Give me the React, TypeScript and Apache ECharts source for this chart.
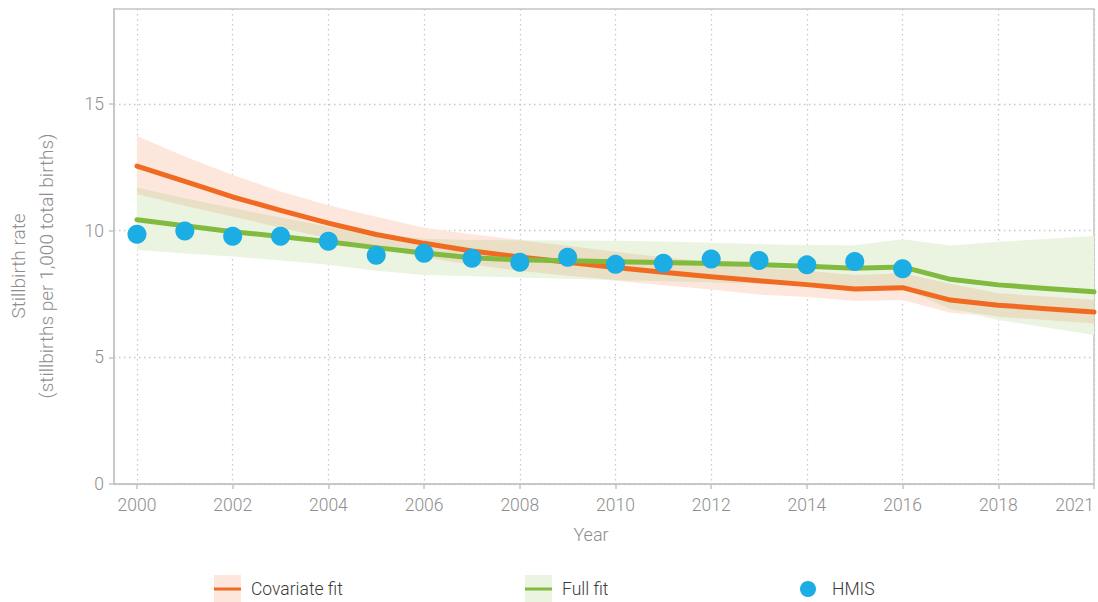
import React, { useEffect, useRef } from 'react';
import * as echarts from 'echarts';

// x positions are indices into this list of year labels
const years = ['2000', '2001', '2002', '2003', '2004', '2005', '2006', '2007', '2008', '2009', '2010',
  '2011', '2012', '2013', '2014', '2015', '2016', '2017', '2018', '2019', '2021'];
const xTickIndex = [0, 2, 4, 6, 8, 10, 12, 14, 16, 18, 20];
const yTicks = [0, 5, 10, 15];

const covariateFit = [12.55, 11.95, 11.33, 10.80, 10.30, 9.85, 9.50, 9.20, 8.96, 8.75, 8.55,
  8.36, 8.18, 8.02, 7.87, 7.70, 7.75, 7.26, 7.06, 6.92, 6.79];
const covariateUpper = [13.74, 12.93, 12.20, 11.55, 11.00, 10.55, 10.12, 9.86, 9.64, 9.40, 9.17,
  8.95, 8.75, 8.55, 8.42, 8.25, 8.32, 7.90, 7.53, 7.40, 7.26];
const covariateLower = [11.45, 10.98, 10.56, 10.12, 9.70, 9.30, 8.95, 8.65, 8.42, 8.22, 8.02,
  7.85, 7.68, 7.48, 7.38, 7.22, 7.26, 6.76, 6.60, 6.47, 6.34];

const fullFit = [10.43, 10.19, 9.96, 9.77, 9.56, 9.33, 9.12, 8.93, 8.85, 8.81, 8.77,
  8.74, 8.70, 8.66, 8.60, 8.52, 8.57, 8.08, 7.86, 7.72, 7.59];
const fullUpper = [11.70, 11.28, 10.89, 10.52, 10.16, 9.90, 9.68, 9.63, 9.62, 9.61, 9.60,
  9.57, 9.52, 9.47, 9.43, 9.42, 9.66, 9.41, 9.56, 9.67, 9.79];
const fullLower = [9.24, 9.10, 8.98, 8.82, 8.65, 8.42, 8.25, 8.20, 8.15, 8.10, 8.05,
  8.00, 7.95, 7.90, 7.85, 7.75, 7.74, 6.90, 6.47, 6.18, 5.88];

const hmis = [9.86, 9.99, 9.78, 9.78, 9.58, 9.03, 9.11, 8.91, 8.75, 8.95, 8.67,
  8.71, 8.88, 8.82, 8.65, 8.78, 8.50];

const FONT = 'Roboto, "Helvetica Neue", Arial, sans-serif';
const AXIS_GRAY = '#c4c4c4';
const LABEL_GRAY = '#8e8e8e';
const ORANGE = '#f06a22';
const GREEN = '#80ba3e';
const BLUE = '#1badE3';
const PINK = '#fde7dc';
const LIGHT_GREEN = '#ebf4e1';
const TAN = '#e8dfc4';

function pts(arr: number[]) {
  return arr.map((v, i) => [i, v]);
}

function bandSeries(name: string, lower: number[], upper: number[], color: string, z: number) {
  return {
    type: 'custom', name, silent: true, z,
    data: lower.map((l, i) => [i, l, upper[i]]),
    encode: { x: 0, y: [1, 2] },
    renderItem: (params: any, api: any) => {
      if (params.dataIndex !== 0) return null;
      const top = upper.map((u, i) => api.coord([i, Math.max(u, lower[i])]));
      const bottom = lower.map((l, i) => api.coord([i, l])).reverse();
      return { type: 'polygon', shape: { points: top.concat(bottom) }, style: { fill: color } };
    },
  };
}

export default function App() {
  const ref = useRef<HTMLDivElement>(null);
  useEffect(() => {
    if (!ref.current) return;
    const chart = echarts.init(ref.current, undefined, { renderer: 'svg' });
    const overlapLower = covariateLower.map((v, i) => Math.max(v, fullLower[i]));
    const overlapUpper = covariateUpper.map((v, i) => Math.min(v, fullUpper[i]));
    const dotted = { type: [1.5, 3.5], color: '#c8c8c8', width: 1.3 };
    const legendY = 589;
    chart.setOption({
      animation: false,
      grid: { left: 114, right: 4, top: 9, bottom: 118, show: true, borderColor: AXIS_GRAY, borderWidth: 1.5 },
      xAxis: {
        type: 'value', min: -0.48, max: 20,
        axisLine: { show: true, onZero: false, lineStyle: { color: AXIS_GRAY, width: 1.5 } },
        axisTick: { show: true, length: 5, customValues: xTickIndex, lineStyle: { color: AXIS_GRAY, width: 1.5 } },
        axisLabel: {
          customValues: xTickIndex, formatter: (v: number) => years[Math.round(v)],
          color: LABEL_GRAY, fontSize: 17.5, fontFamily: FONT, fontWeight: 300, margin: 12, alignMaxLabel: 'right',
        },
        splitLine: { show: true, lineStyle: dotted },
      },
      yAxis: {
        type: 'value', min: 0, max: 18.75,
        axisLine: { show: true, onZero: false, lineStyle: { color: AXIS_GRAY, width: 1.5 } },
        axisTick: { show: true, length: 5, customValues: yTicks, lineStyle: { color: AXIS_GRAY, width: 1.5 } },
        axisLabel: {
          customValues: yTicks, color: LABEL_GRAY, fontSize: 17.5, fontFamily: FONT, fontWeight: 300, margin: 10,
        },
        splitLine: { show: true, lineStyle: dotted },
      },
      series: [
        bandSeries('Covariate band', covariateLower, covariateUpper, PINK, 1),
        bandSeries('Full band', fullLower, fullUpper, LIGHT_GREEN, 1),
        bandSeries('Overlap band', overlapLower, overlapUpper, TAN, 1),
        {
          type: 'line', name: 'Covariate fit', data: pts(covariateFit), symbol: 'none', z: 3,
          lineStyle: { color: ORANGE, width: 5, cap: 'round', join: 'round' },
        },
        {
          type: 'line', name: 'Full fit', data: pts(fullFit), symbol: 'none', z: 3,
          lineStyle: { color: GREEN, width: 5, cap: 'round', join: 'round' },
        },
        {
          type: 'scatter', name: 'HMIS', data: pts(hmis), symbolSize: 19, z: 5,
          itemStyle: { color: BLUE, opacity: 1 },
        },
      ],
      graphic: [
        {
          type: 'text', x: 591, y: 534,
          style: { text: 'Year', fill: LABEL_GRAY, font: `300 18px ${FONT}`, align: 'center', verticalAlign: 'middle' },
        },
        {
          type: 'text', x: 32, y: 266, rotation: Math.PI / 2,
          style: {
            text: 'Stillbirth rate\n(stillbirths per 1,000 total births)', fill: LABEL_GRAY,
            font: `300 19px ${FONT}`, lineHeight: 28, align: 'center', verticalAlign: 'middle',
          },
        },
        { type: 'rect', shape: { x: 214, y: legendY - 14, width: 27, height: 28 }, style: { fill: PINK } },
        { type: 'line', shape: { x1: 214, y1: legendY, x2: 241, y2: legendY }, style: { stroke: ORANGE, lineWidth: 3 } },
        {
          type: 'text', x: 251, y: legendY,
          style: { text: 'Covariate fit', fill: '#3a3a3a', font: `300 17.5px ${FONT}`, verticalAlign: 'middle' },
        },
        { type: 'rect', shape: { x: 525, y: legendY - 14, width: 27, height: 28 }, style: { fill: LIGHT_GREEN } },
        { type: 'line', shape: { x1: 525, y1: legendY, x2: 552, y2: legendY }, style: { stroke: GREEN, lineWidth: 3 } },
        {
          type: 'text', x: 562, y: legendY,
          style: { text: 'Full fit', fill: '#3a3a3a', font: `300 17.5px ${FONT}`, verticalAlign: 'middle' },
        },
        { type: 'circle', shape: { cx: 808, cy: legendY, r: 8 }, style: { fill: BLUE } },
        {
          type: 'text', x: 832, y: legendY,
          style: { text: 'HMIS', fill: '#3a3a3a', font: `300 17.5px ${FONT}`, verticalAlign: 'middle' },
        },
      ],
    });
    return () => chart.dispose();
  }, []);
  return <div ref={ref} style={{ position: 'absolute', left: 0, top: 0, width: 1098, height: 602 }} />;
}
